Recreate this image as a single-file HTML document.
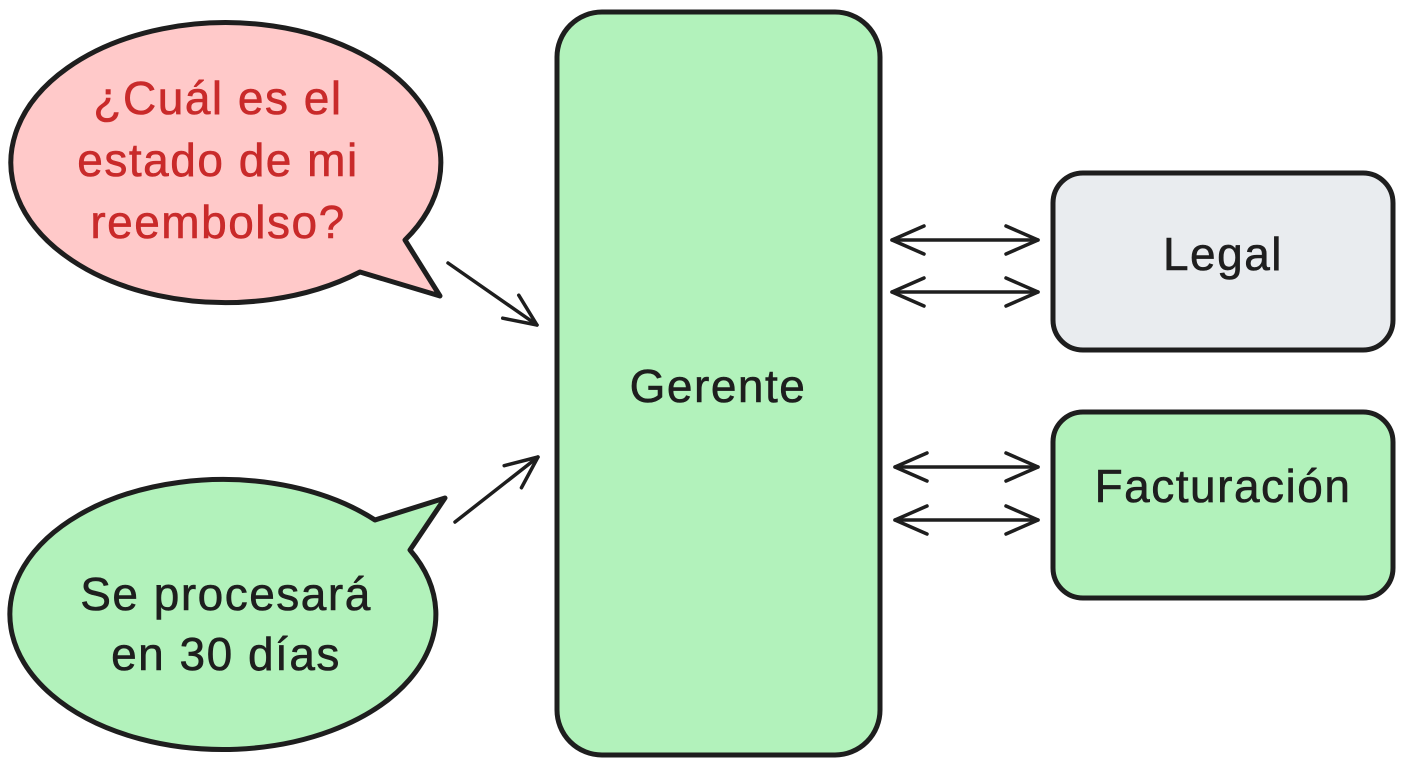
<!DOCTYPE html>
<html><head><meta charset="utf-8"><style>
html,body{margin:0;padding:0;background:#fff;}
svg{display:block;}
text{font-family:"Liberation Sans",sans-serif;letter-spacing:1.5px;}
</style></head><body>
<svg width="1408" height="768" viewBox="0 0 1408 768" xmlns="http://www.w3.org/2000/svg">
<defs>
<marker id="ah2" markerWidth="40" markerHeight="40" refX="36" refY="20" orient="auto-start-reverse" markerUnits="userSpaceOnUse">
<path d="M4,6 L36,20 L4,34" fill="none" stroke="#1e1e1e" stroke-width="3.5" stroke-linecap="round" stroke-linejoin="round"/>
</marker>
</defs>
<path d="M405,240 L440,296 L360,272 A215,140 0 1 1 405,240 Z" fill="#ffc9c9" stroke="#1e1e1e" stroke-width="5" stroke-linejoin="round"/>
<g fill="#c92a2a" font-size="46" text-anchor="middle" stroke="#c92a2a" stroke-width="0.6">
<text x="218" y="114">¿Cuál es el</text>
<text x="218" y="176">estado de mi</text>
<text x="218" y="238">reembolso?</text>
</g>
<path d="M375,520 L445,498 L410,550 A213,135 0 1 1 375,520 Z" fill="#b2f2bb" stroke="#1e1e1e" stroke-width="5" stroke-linejoin="round"/>
<g fill="#1e1e1e" font-size="46" text-anchor="middle" stroke="#1e1e1e" stroke-width="0.6">
<text x="226" y="610">Se procesará</text>
<text x="226" y="670">en 30 días</text>
</g>
<line x1="448" y1="263" x2="537" y2="325" stroke="#1e1e1e" stroke-width="3.5" stroke-linecap="round" marker-end="url(#ah2)"/>
<line x1="455" y1="522" x2="538" y2="457" stroke="#1e1e1e" stroke-width="3.5" stroke-linecap="round" marker-end="url(#ah2)"/>
<rect x="557" y="12" width="323" height="743" rx="45" fill="#b2f2bb" stroke="#1e1e1e" stroke-width="5"/>
<text x="718" y="402" font-size="46" text-anchor="middle" fill="#1e1e1e" stroke="#1e1e1e" stroke-width="0.6">Gerente</text>
<rect x="1053" y="173" width="340" height="177" rx="30" fill="#e9ecef" stroke="#1e1e1e" stroke-width="5"/>
<text x="1223" y="270" font-size="46" text-anchor="middle" fill="#1e1e1e" stroke="#1e1e1e" stroke-width="0.6">Legal</text>
<rect x="1053" y="412" width="340" height="186" rx="30" fill="#b2f2bb" stroke="#1e1e1e" stroke-width="5"/>
<text x="1223" y="502" font-size="46" text-anchor="middle" fill="#1e1e1e" stroke="#1e1e1e" stroke-width="0.6">Facturación</text>
<g stroke="#1e1e1e" stroke-width="3.5" stroke-linecap="round">
<line x1="892" y1="240" x2="1038" y2="240" marker-start="url(#ah2)" marker-end="url(#ah2)"/>
<line x1="892" y1="292" x2="1038" y2="292" marker-start="url(#ah2)" marker-end="url(#ah2)"/>
<line x1="895" y1="467" x2="1038" y2="467" marker-start="url(#ah2)" marker-end="url(#ah2)"/>
<line x1="895" y1="520" x2="1038" y2="520" marker-start="url(#ah2)" marker-end="url(#ah2)"/>
</g>
</svg>
</body></html>
